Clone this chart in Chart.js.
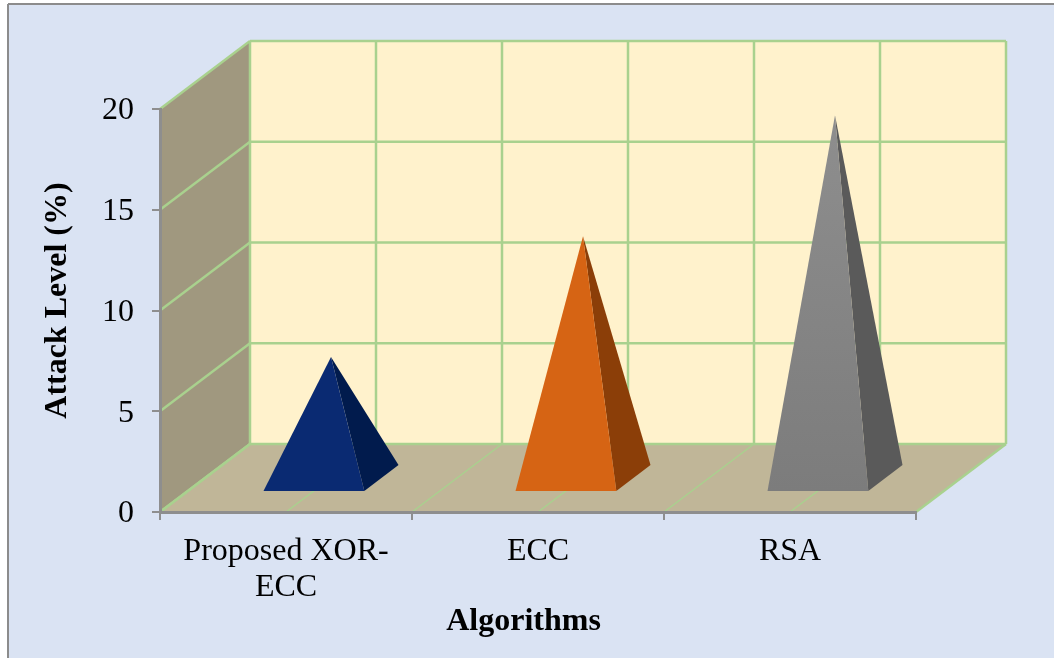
<!DOCTYPE html>
<html>
<head>
<meta charset="utf-8">
<title>Attack Level</title>
<script src="https://cdn.jsdelivr.net/npm/chart.js@4"></script>
<style>
  html, body { margin: 0; padding: 0; background: #fff; }
  canvas { display: block; }
</style>
</head>
<body>
<canvas id="myChart" width="1054" height="658"></canvas>
<script>
var categories = [['Proposed XOR-', 'ECC'], 'ECC', 'RSA'];
var attackLevel = [6, 12, 18];
var yTicks = [0, 5, 10, 15, 20];
var xTitle = 'Algorithms';
var yTitle = 'Attack Level (%)';

// front face colours run top to bottom, side faces are flat
var frontTop = ['#0a2a72', '#d66414', '#8e8e8e'];
var frontBottom = ['#0a2a72', '#d66414', '#7c7c7c'];
var sideColors = ['#011b4d', '#8b3e08', '#5a5a5a'];

var serif = '"Liberation Serif", "Times New Roman", serif';
var green = '#a9d18e';
var axisGrey = '#8e8e8e';

// how far the box runs back from the front plane
var depthX = 90;
var depthY = -68;

function line(ctx, x1, y1, x2, y2) {
    ctx.beginPath();
    ctx.moveTo(x1, y1);
    ctx.lineTo(x2, y2);
    ctx.stroke();
}

function poly(ctx, pts, color) {
    ctx.fillStyle = color;
    ctx.beginPath();
    ctx.moveTo(pts[0][0], pts[0][1]);
    for (var i = 1; i < pts.length; i++) ctx.lineTo(pts[i][0], pts[i][1]);
    ctx.closePath();
    ctx.fill();
}

// page background, walls and floor with their grid
var boxPlugin = {
    id: 'box',
    beforeDraw: function (chart) {
        var ctx = chart.ctx;
        var a = chart.chartArea;
        var y = chart.scales.y;
        var x = chart.scales.x;
        var top = y.getPixelForValue(20);
        var bottom = y.getPixelForValue(0);

        // y tick labels sit a little low on their ticks
        y.getLabelItems().forEach(function (item) { item.textOffset = 2; });

        ctx.save();
        ctx.fillStyle = '#ffffff';
        ctx.fillRect(0, 0, chart.width, chart.height);
        ctx.fillStyle = '#dae3f3';
        ctx.fillRect(8, 4, chart.width - 8, chart.height - 4);
        ctx.strokeStyle = '#8c8c8c';
        ctx.lineWidth = 2;
        line(ctx, 8, 4, chart.width, 4);
        line(ctx, 8, 4, 8, chart.height);

        // walls
        poly(ctx, [[a.left, top], [a.left + depthX, top + depthY], [a.left + depthX, bottom + depthY], [a.left, bottom]], '#a0987f');
        poly(ctx, [[a.left + depthX, top + depthY], [a.right + depthX, top + depthY], [a.right + depthX, bottom + depthY], [a.left + depthX, bottom + depthY]], '#fff2cc');
        poly(ctx, [[a.left, bottom], [a.left + depthX, bottom + depthY], [a.right + depthX, bottom + depthY], [a.right, bottom]], '#c0b698');

        ctx.strokeStyle = green;
        ctx.lineWidth = 2.5;
        yTicks.forEach(function (v) {
            var py = y.getPixelForValue(v);
            line(ctx, a.left, py, a.left + depthX, py + depthY);
            line(ctx, a.left + depthX, py + depthY, a.right + depthX, py + depthY);
        });

        // verticals at every category edge and centre
        var step = x.width / (categories.length * 2);
        for (var i = 0; i <= categories.length * 2; i++) {
            var px = a.left + i * step;
            ctx.lineWidth = 2.5;
            line(ctx, px + depthX, top + depthY, px + depthX, bottom + depthY);
            ctx.lineWidth = (i === 0 || i === categories.length * 2) ? 2.5 : 1.5;
            line(ctx, px, bottom, px + depthX, bottom + depthY);
        }
        ctx.restore();
    },
    afterDatasetsDraw: function (chart) {
        var ctx = chart.ctx;
        var meta = chart.getDatasetMeta(0);
        var y = chart.scales.y;

        // each bar becomes a pyramid standing in the middle of the floor depth
        meta.data.forEach(function (bar, i) {
            var half = bar.width / 2;
            var frontX = bar.x + depthX * 0.31;
            var frontY = y.getPixelForValue(0) + depthY * 0.31;
            var apex = [bar.x + depthX * 0.5, bar.y + depthY * 0.5];
            var fl = [frontX - half, frontY];
            var fr = [frontX + half, frontY];
            var br = [fr[0] + depthX * 0.38, fr[1] + depthY * 0.38];
            var grad = ctx.createLinearGradient(0, apex[1], 0, frontY);
            grad.addColorStop(0, frontTop[i]);
            grad.addColorStop(1, frontBottom[i]);
            poly(ctx, [apex, fr, br], sideColors[i]);
            poly(ctx, [apex, fl, fr], grad);
        });

        // axis titles
        ctx.save();
        ctx.fillStyle = '#000';
        ctx.font = 'bold 32px ' + serif;
        ctx.textAlign = 'center';
        ctx.textBaseline = 'alphabetic';
        ctx.fillText(xTitle, 523.5, 630);
        ctx.translate(66, 300.5);
        ctx.rotate(-Math.PI / 2);
        ctx.fillText(yTitle, 0, 0);
        ctx.restore();
    }
};

var ctx = document.getElementById('myChart').getContext('2d');

var myChart = new Chart(ctx, {
    type: 'bar',
    data: {
        labels: categories,
        datasets: [{
            label: yTitle,
            data: attackLevel,
            backgroundColor: 'transparent',
            categoryPercentage: 1,
            barPercentage: 0.4
        }]
    },
    plugins: [boxPlugin],
    options: {
        responsive: false,
        animation: false,
        layout: {
            padding: { top: 109, right: 138, left: 0, bottom: 0 }
        },
        plugins: {
            legend: { display: false },
            tooltip: { enabled: false }
        },
        scales: {
            x: {
                afterFit: function (scale) { scale.height = 146; },
                grid: { drawOnChartArea: false, color: axisGrey, tickLength: 8, lineWidth: 2 },
                border: { color: axisGrey, width: 3 },
                ticks: {
                    autoSkip: false,
                    maxRotation: 0,
                    color: '#000',
                    padding: 14,
                    font: { family: serif, size: 32, lineHeight: 1.125 }
                }
            },
            y: {
                min: 0,
                max: 20,
                afterFit: function (scale) { scale.width = 160; },
                afterBuildTicks: function (scale) {
                    scale.ticks = yTicks.map(function (v) { return { value: v }; });
                },
                grid: { drawOnChartArea: false, color: axisGrey, tickLength: 8, lineWidth: 2 },
                border: { color: axisGrey, width: 3 },
                ticks: {
                    color: '#000',
                    padding: 18,
                    font: { family: serif, size: 32 }
                }
            }
        }
    }
});
</script>
</body>
</html>
